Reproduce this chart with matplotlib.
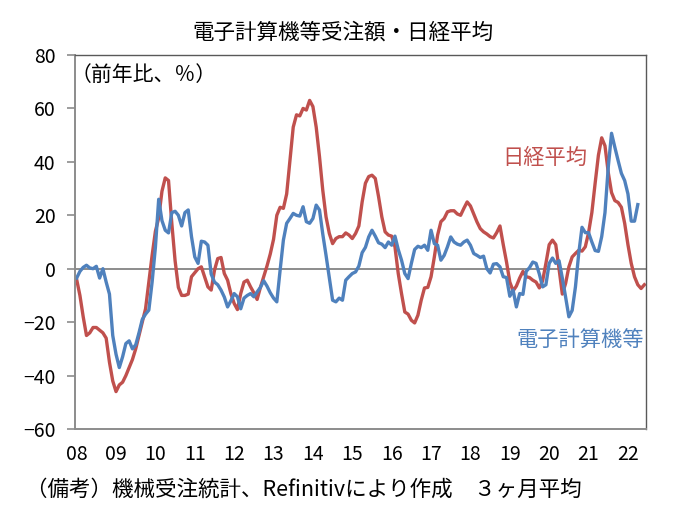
import numpy as np
import matplotlib
matplotlib.use("Agg")
import matplotlib.pyplot as plt

plt.rcParams['font.family'] = ['Noto Sans CJK JP', 'DejaVu Sans']

# monthly, Jan 2008 .. Jun 2022 (3-month average, y/y %)
nikkei = [
    -4, -10, -18, -25, -24, -22, -22, -23, -24, -26, -35, -42,          # 2008
    -46, -43.5, -42.5, -40, -37, -34, -30, -25, -20, -15, -5, 5,        # 2009
    14, 19, 29, 34, 33, 17, 3, -7, -10, -10, -9.5, -3,                  # 2010
    -1.5, 0, 0.7, -3, -6.8, -8, -0.6, 3.8, 4.2, -1.8, -4.3, -9.3,       # 2011
    -13, -15.3, -9.3, -5, -4.3, -6.8, -9, -11.5, -7, -3, 1, 5.5,        # 2012
    11, 20, 23, 22.6, 28, 40.7, 53, 57.6, 57.2, 60, 59.4, 63,           # 2013
    60.7, 53, 42, 29.4, 19.4, 13.2, 9.4, 11.3, 12, 12, 13.4, 12.6,      # 2014
    11.3, 13.2, 16, 25, 32, 34.5, 35, 33.8, 27, 19.4, 13.8, 12.6,       # 2015
    12.2, 8.2, -1.8, -9.3, -16.2, -17, -19.3, -20.3, -17.4, -11.8, -7.2, -7,  # 2016
    -3, 4.4, 12.6, 17.6, 18.8, 21.3, 21.7, 21.7, 20.5, 20, 22.6, 25,    # 2017
    23.5, 20.5, 17.5, 15, 13.8, 13, 12, 11.5, 13.5, 16, 9, 2.5,         # 2018
    -5, -8.3, -6.5, -3.5, -1, -3, -3.3, -4.3, -5, -7.2, -4.5, 2,        # 2019
    9, 10.7, 9, 0, -9.5, -5.5, 0.7, 4.4, 5.7, 6.9, 6.6, 8.2,            # 2020
    13.5, 21, 32, 42.5, 49, 46, 36, 28.5, 25.5, 24.8, 23, 17,           # 2021
    9, 2, -3, -6, -7.4, -6,                                             # 2022
]

computers = [
    -3.5, -1, 0.5, 1.3, 0.3, 0, 0.9, -3.5, 0, -5, -9.5, -25,            # 2008
    -32, -37, -33, -28, -27, -30, -28.5, -24, -19, -17, -15.5, -5,      # 2009
    8, 26, 18, 14.4, 13.4, 21, 21.5, 20, 16, 21, 22, 12,                # 2010
    4.4, 2, 10.3, 10, 8.8, -2, -5, -6, -8, -10.6, -14.3, -12,           # 2011
    -9.3, -10.5, -15, -11, -10, -9.3, -10.5, -8.7, -7, -4.5, -6.5, -9,  # 2012
    -11, -12.4, -0.6, 10.7, 17, 18.8, 20.7, 20, 19.7, 23.2, 17.6, 17,   # 2013
    18.8, 23.8, 22, 13, 5, -3.5, -11.8, -12.4, -11, -11.8, -4.3, -3,    # 2014
    -1.8, -1.2, 1, 6, 8, 11.9, 14.4, 12.2, 9.7, 9.2, 7.9, 10,           # 2015
    8.8, 12.2, 7.2, 3.2, -1.8, -3.7, 2, 7.2, 8.4, 7.9, 8.8, 6.9,        # 2016
    14.4, 9.4, 8.8, 3.2, 5, 8.2, 11.9, 10, 9.2, 8.8, 10, 10.7,          # 2017
    8.8, 5.7, 5, 4.2, 4.7, 0, -1.6, 1.7, 1.9, 0.7, -3, -3.3,            # 2018
    -10.3, -8, -14.3, -9.3, -9.6, -1, 0.4, 2.5, 2, -2, -6.8, -6,        # 2019
    2, 4, 2, 3, -3.5, -10.6, -18, -15.6, -6.8, 5.7, 15.5, 13.5,         # 2020
    13.5, 10, 6.8, 6.5, 12, 21, 38, 50.7, 45.5, 40.5, 35.7, 33,         # 2021
    28, 17.8, 17.8, 24,                                                 # 2022
]

year_labels = ["08", "09", "10", "11", "12", "13", "14", "15",
               "16", "17", "18", "19", "20", "21", "22"]

RED = "#C0504D"
BLUE = "#4F81BD"
W, H = 685, 521

fig = plt.figure(figsize=(W / 100, H / 100), dpi=100)
ax = fig.add_axes([75 / W, 1 - 429 / H, (646 - 75) / W, (429 - 55) / H])

ax.plot(np.arange(len(nikkei)), nikkei, color=RED, lw=2.4, solid_joinstyle='round')
ax.plot(np.arange(len(computers)), computers, color=BLUE, lw=2.4, solid_joinstyle='round')
ax.axhline(0, color="#8c8c8c", lw=1.4, zorder=1)

ax.set_xlim(-0.5, len(nikkei) - 0.5)
ax.set_ylim(-60, 80)
ax.set_yticks(range(-60, 81, 20))
ax.set_xticks(np.arange(0, 12 * len(year_labels), 12))
ax.set_xticklabels(year_labels)
ax.tick_params(axis='y', direction='out', length=6, width=1.2, color="#8c8c8c",
               labelsize=14, pad=8)
ax.tick_params(axis='x', length=0, labelsize=14, pad=11)
for s in ["left", "bottom"]:
    ax.spines[s].set_color("#8c8c8c")
    ax.spines[s].set_linewidth(1.4)
for s in ["top", "right"]:
    ax.spines[s].set_color("#595959")
    ax.spines[s].set_linewidth(1.0)

fig.text(71 / W, 1 - 75 / H, "（前年比、％）", fontsize=15, va="center", ha="left")
fig.text(343 / W, 1 - 33 / H, "電子計算機等受注額・日経平均", fontsize=15.5, va="center", ha="center")
fig.text(502 / W, 1 - 158 / H, "日経平均", fontsize=15.3, color=RED, va="center", ha="left")
fig.text(516 / W, 1 - 341 / H, "電子計算機等", fontsize=15.3, color=BLUE, va="center", ha="left")
fig.text(26 / W, 1 - 490 / H, "（備考）機械受注統計、Refinitivにより作成　３ヶ月平均",
         fontsize=15.5, va="center", ha="left")

fig.savefig("out.png", dpi=100)
